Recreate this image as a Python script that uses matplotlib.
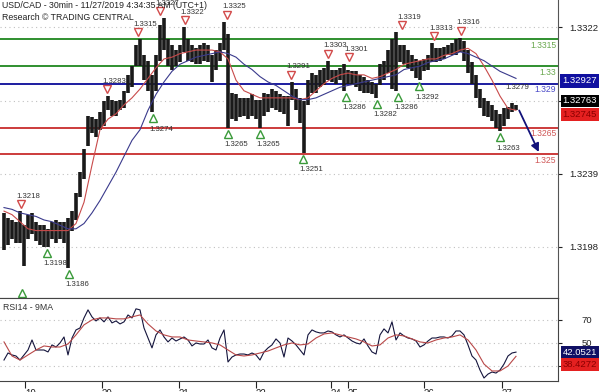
import numpy as np
import matplotlib
matplotlib.use("Agg")
from matplotlib import pyplot as plt
from matplotlib import transforms

plt.rcParams['font.family'] = ['Liberation Sans', 'DejaVu Sans']

# price samples, one every 1.25h of trading time (x = sample index)
highs = [1.3217, 1.3214, 1.3213, 1.3212, 1.3218, 1.3210, 1.3216, 1.3217,
         1.3212, 1.3210, 1.3210, 1.3208, 1.3212, 1.3213, 1.3212, 1.3212,
         1.3214, 1.3218, 1.3228, 1.3240, 1.3253, 1.3272, 1.3271, 1.3270,
         1.3274, 1.3280, 1.3283, 1.3281, 1.3280, 1.3281, 1.3286, 1.3295,
         1.3300, 1.3312, 1.3315, 1.3306, 1.3303, 1.3295, 1.3306, 1.3323,
         1.3327, 1.3315, 1.3312, 1.3309, 1.3312, 1.3322, 1.3315, 1.3312,
         1.3310, 1.3312, 1.3313, 1.3312, 1.3306, 1.3309, 1.3313, 1.3325,
         1.3318, 1.3285, 1.3284, 1.3282, 1.3282, 1.3282, 1.3284, 1.3281,
         1.3281, 1.3285, 1.3284, 1.3287, 1.3286, 1.3284, 1.3283, 1.3283,
         1.3291, 1.3287, 1.3282, 1.3280, 1.3292, 1.3296, 1.3295, 1.3298,
         1.3299, 1.3303, 1.3298, 1.3298, 1.3299, 1.3301, 1.3298, 1.3297,
         1.3297, 1.3295, 1.3294, 1.3292, 1.3291, 1.3290, 1.3301, 1.3303,
         1.3309, 1.3315, 1.3319, 1.3312, 1.3312, 1.3309, 1.3306, 1.3304,
         1.3303, 1.3304, 1.3306, 1.3313, 1.3310, 1.3310, 1.3311, 1.3312,
         1.3313, 1.3315, 1.3316, 1.3314, 1.3309, 1.3302, 1.3295, 1.3287,
         1.3282, 1.3280, 1.3278, 1.3275, 1.3273, 1.3276, 1.3277, 1.3279,
         1.3278]
lows = [1.3196, 1.3199, 1.3202, 1.3200, 1.3200, 1.3187, 1.3202, 1.3205,
        1.3201, 1.3199, 1.3198, 1.3198, 1.3202, 1.3200, 1.3202, 1.3200,
        1.3186, 1.3207, 1.3213, 1.3226, 1.3236, 1.3255, 1.3262, 1.3260,
        1.3264, 1.3266, 1.3275, 1.3272, 1.3272, 1.3275, 1.3276, 1.3285,
        1.3288, 1.3300, 1.3300, 1.3292, 1.3286, 1.3274, 1.3286, 1.3303,
        1.3309, 1.3300, 1.3298, 1.3300, 1.3302, 1.3308, 1.3303, 1.3302,
        1.3301, 1.3301, 1.3303, 1.3302, 1.3291, 1.3298, 1.3303, 1.3309,
        1.3265, 1.3270, 1.3269, 1.3271, 1.3272, 1.3270, 1.3272, 1.3270,
        1.3265, 1.3272, 1.3274, 1.3276, 1.3275, 1.3274, 1.3273, 1.3266,
        1.3281, 1.3275, 1.3268, 1.3251, 1.3278, 1.3285, 1.3285, 1.3288,
        1.3289, 1.3292, 1.3291, 1.3290, 1.3292, 1.3286, 1.3290, 1.3289,
        1.3288, 1.3286, 1.3285, 1.3285, 1.3284, 1.3282, 1.3289, 1.3292,
        1.3296, 1.3287, 1.3286, 1.3302, 1.3301, 1.3299, 1.3297, 1.3293,
        1.3292, 1.3297, 1.3298, 1.3302, 1.3302, 1.3303, 1.3304, 1.3306,
        1.3306, 1.3306, 1.3308, 1.3303, 1.3296, 1.3290, 1.3282, 1.3276,
        1.3272, 1.3271, 1.3269, 1.3265, 1.3263, 1.3266, 1.3270, 1.3274,
        1.3275]

# moving averages, one value every 2 samples
ma_fast = [1.3218, 1.3216, 1.3212, 1.3208, 1.3207, 1.3207, 1.3207, 1.3207,
           1.3207, 1.3211, 1.3223, 1.3244, 1.3264, 1.3270, 1.3273, 1.3278,
           1.3282, 1.3287, 1.3293, 1.3299, 1.3304, 1.3305, 1.3307, 1.3308,
           1.3309, 1.3309, 1.3309, 1.3308, 1.3304, 1.3292, 1.3286, 1.3284,
           1.3282, 1.3282, 1.3282, 1.3282, 1.3282, 1.3281, 1.3282, 1.3286,
           1.3290, 1.3293, 1.3295, 1.3296, 1.3295, 1.3295, 1.3293, 1.3294,
           1.3296, 1.3298, 1.3301, 1.3302, 1.3303, 1.3304, 1.3304, 1.3306,
           1.3307, 1.3309, 1.3310, 1.3307, 1.3300, 1.3292, 1.3283, 1.3276,
           1.3275]
ma_slow = [1.3220, 1.3219, 1.3217, 1.3216, 1.3215, 1.3213, 1.3212, 1.3210,
           1.3208, 1.3208, 1.3211, 1.3217, 1.3224, 1.3232, 1.3240, 1.3249,
           1.3258, 1.3264, 1.3275, 1.3284, 1.3291, 1.3297, 1.3301, 1.3303,
           1.3305, 1.3306, 1.3307, 1.3308, 1.3307, 1.3305, 1.3301, 1.3298,
           1.3294, 1.3291, 1.3289, 1.3286, 1.3283, 1.3281, 1.3281, 1.3282,
           1.3284, 1.3286, 1.3288, 1.3289, 1.3290, 1.3291, 1.3292, 1.3293,
           1.3294, 1.3295, 1.3298, 1.3299, 1.3300, 1.3302, 1.3303, 1.3304,
           1.3306, 1.3308, 1.3307, 1.3305, 1.3303, 1.3300, 1.3297, 1.3295,
           1.3293]

# RSI(14) per sample and its 9MA every 2 samples
rsi = [35.2, 41.3, 39.6, 38.7, 35.2, 39.6, 43.9, 52.6,
       43.9, 43.9, 43.9, 42.2, 48.3, 46.5, 50.0, 55.2,
       39.6, 54.3, 61.3, 63.0, 71.7, 78.7, 72.6, 69.1,
       71.7, 68.3, 72.6, 67.4, 69.1, 66.5, 68.3, 74.3,
       71.7, 79.6, 78.7, 63.0, 54.3, 45.7, 57.0, 61.3,
       55.2, 50.9, 54.3, 51.7, 53.5, 55.2, 52.6, 47.4,
       50.0, 49.1, 49.1, 52.6, 45.7, 43.9, 54.3, 61.3,
       33.5, 37.8, 39.6, 40.4, 40.4, 39.6, 41.3, 39.6,
       35.2, 42.2, 45.7, 48.3, 53.5, 50.0, 37.8, 54.3,
       51.7, 48.3, 43.9, 39.6, 57.0, 61.3, 59.6, 58.7,
       58.7, 60.4, 59.6, 57.0, 55.2, 57.0, 54.3, 51.7,
       50.0, 49.1, 53.5, 47.4, 42.2, 40.4, 57.0, 62.2,
       58.7, 68.3, 52.6, 58.7, 56.1, 54.3, 53.5, 51.7,
       46.5, 48.3, 51.7, 54.3, 54.3, 55.2, 55.2, 54.3,
       56.1, 60.4, 60.4, 57.0, 48.3, 38.7, 35.2, 26.5,
       19.6, 23.0, 24.8, 23.9, 26.5, 31.7, 38.7, 41.3,
       42.05]
rsi_ma = [50.9, 38.7, 35.2, 39.6, 43.9, 47.4, 46.5, 46.5,
          49.1, 57.0, 65.7, 70.0, 71.7, 71.7, 70.9, 70.9,
          72.6, 74.3, 66.5, 60.4, 57.0, 55.2, 55.2, 52.6,
          51.7, 50.9, 50.0, 48.3, 43.9, 39.6, 38.7, 39.6,
          41.3, 43.0, 45.7, 48.3, 50.0, 48.3, 49.1, 54.3,
          57.8, 58.7, 57.0, 55.2, 53.5, 50.9, 47.4, 48.3,
          54.3, 57.0, 56.1, 53.5, 50.9, 50.0, 52.6, 54.3,
          55.2, 57.0, 52.6, 43.9, 31.7, 25.7, 25.7, 30.0,
          38.4]

days = [5.25, 24.5, 43.75, 63, 81.75, 86, 105, 124.5]
day_labels = ["19", "20", "21", "22", "24", "25", "26", "27"]

# support / resistance levels
levels = [1.3315, 1.3300, 1.3290, 1.3265, 1.3250]
level_labels = ["1.3315", "1.33", "1.329", "1.3265", "1.325"]
level_colors = ["#2f8f2f", "#2f8f2f", "#1c1ca0", "#cc3b3b", "#cc3b3b"]
level_text = ["#6aa84f", "#6aa84f", "#4a4ac8", "#d05858", "#d05858"]

# pivot highs / lows
peak_x = [4.25, 25.75, 33.5, 39, 45.25, 55.75, 71.75, 81, 86.25, 99.5, 107.5, 114.25]
peak_val = [1.3218, 1.3283, 1.3315, 1.3327, 1.3322, 1.3325, 1.3291, 1.3303,
            1.3301, 1.3319, 1.3313, 1.3316]
trough_x = [4.5, 10.75, 16.25, 37.25, 56, 64, 74.75, 85.5, 93.25, 98.5, 103.75, 124]
trough_val = [1.3175, 1.3198, 1.3186, 1.3274, 1.3265, 1.3265, 1.3251, 1.3286,
              1.3282, 1.3286, 1.3292, 1.3263]
trough_labels = ["", "1.3198", "1.3186", "1.3274", "1.3265", "1.3265", "1.3251",
                 "1.3286", "1.3282", "1.3286", "1.3292", "1.3263"]

last_price = 1.32763
target = 1.3250

fig = plt.figure(figsize=(6, 3.92), dpi=100)
ax = fig.add_axes([0, 1 - 298 / 392, 558 / 600, 298 / 392])
rax = fig.add_axes([0, 1 - 381 / 392, 558 / 600, 83 / 392])

def shift(a, dx, dy, base=None):
    # offset a transform by some pixels
    return transforms.offset_copy(base if base is not None else a.transData,
                                  fig=fig, x=dx, y=dy, units='dots')

# ---- price panel
ax.set_xlim(-1, 138.5)
ax.set_ylim(1.31689, 1.33373)
for v in [1.3322, 1.3280, 1.3239, 1.3198]:
    ax.axhline(v, color='#c0c0c0', lw=0.8, ls=(0, (1, 3)), zorder=0)

for lv, c in zip(levels, level_colors):
    ax.axhline(lv, color=c, lw=1.4, zorder=1)

x = np.arange(len(highs))
ax.vlines(x, lows, highs, color='#1a1a1a', lw=2.6, zorder=3)
xm = np.arange(len(ma_fast)) * 2
ax.plot(xm, ma_fast, color='#c84a4a', lw=0.8, zorder=4)
ax.plot(xm, ma_slow, color='#3a3a8c', lw=0.8, zorder=4)

ax.plot(peak_x, peak_val, 'v', mfc='white', mec='#d24a4a', ms=6.2, mew=1.0,
        transform=shift(ax, 0, 7), zorder=5)
for px, pv in zip(peak_x, peak_val):
    ax.text(px, pv, f"{pv:.4f}", transform=shift(ax, 7, 15), ha='center',
            va='center', fontsize=5.6, color='#333333', zorder=6)
ax.plot(trough_x, trough_val, '^', mfc='white', mec='#3a9a3a', ms=6.2, mew=1.0,
        transform=shift(ax, 0, -6), zorder=5)
for px, pv, lab in zip(trough_x, trough_val, trough_labels):
    ax.text(px, pv, lab, transform=shift(ax, 8, -17), ha='center',
            va='center', fontsize=5.6, color='#333333', zorder=6)

ax.text(128.25, 1.3288, "1.3279", ha='center', va='center', fontsize=5.6,
        color='#333333')
ax.annotate('', xy=(134, target), xytext=(128.5, last_price),
            arrowprops=dict(arrowstyle='-|>', color='#12127a', lw=1.3,
                            mutation_scale=12), zorder=6)

btrans = transforms.blended_transform_factory(ax.transAxes, ax.transData)
for lv, lab, c in zip(levels, level_labels, level_text):
    ax.text(0.997, lv, lab, transform=shift(ax, 0, -6, btrans), ha='right',
            va='center', fontsize=6.2, color=c)

# 1.3280 sits under the value boxes, so only its tick shows
ax.yaxis.tick_right()
ax.set_yticks([1.3322, 1.3280, 1.3239, 1.3198])
ax.set_yticklabels(["1.3322", "", "1.3239", "1.3198"])
ax.tick_params(axis='y', length=3, pad=5, labelsize=6.8, colors='#222222')
ax.set_xticks([])
for s in ['top', 'left']:
    ax.spines[s].set_visible(False)
ax.spines['right'].set_color('#555555')
ax.spines['bottom'].set_color('#333333')

# value boxes on the right
ax.text(1.008, 1.32927, "1.32927", transform=shift(ax, 0, -2, btrans), fontsize=6.8,
        va='center', ha='left', color='white', clip_on=False,
        bbox=dict(boxstyle='square,pad=0.25', fc='#1010a0', ec='none'))
ax.text(1.008, last_price, "1.32763", transform=shift(ax, 0, 7, btrans), fontsize=6.8,
        va='center', ha='left', color='white', clip_on=False,
        bbox=dict(boxstyle='square,pad=0.2', fc='black', ec='none'))
ax.text(1.008, ma_fast[-1], "1.32745", transform=shift(ax, 0, -4, btrans), fontsize=6.8,
        va='center', ha='left', color='#8a0000', clip_on=False,
        bbox=dict(boxstyle='square,pad=0.2', fc='#e42020', ec='none'))

fig.text(0.004, 1 - 6 / 392, "USD/CAD - 30min - 11/27/2019 4:34:35 AM (UTC+1)",
         fontsize=6.3, va='center', color='#222222')
fig.text(0.004, 1 - 17 / 392, "Research \u00a9 TRADING CENTRAL",
         fontsize=6.3, va='center', color='#222222')

# ---- RSI panel
rax.set_xlim(-1, 138.5)
rax.set_ylim(17, 89)
for v in [30, 50, 70]:
    rax.axhline(v, color='#c0c0c0', lw=0.8, ls=(0, (1, 3)), zorder=0)
rax.plot(np.arange(len(rsi)), rsi, color='#14143c', lw=0.8)
rax.plot(np.arange(len(rsi_ma)) * 2, rsi_ma, color='#b84848', lw=0.8)
rax.text(0.006, 0.86, "RSI14 - 9MA", transform=rax.transAxes, fontsize=6.3,
         color='#333333')

# the 30 label is covered by the value boxes
rax.yaxis.tick_right()
rax.set_yticks([30, 50, 70])
rax.set_yticklabels(["", "50", "70"])
rax.tick_params(axis='y', length=3, pad=14, labelsize=6.8, colors='#222222')
rax.set_xticks(days)
rax.set_xticklabels(day_labels)
for t in rax.get_xticklabels():
    t.set_ha('left')
rax.tick_params(axis='x', length=5, pad=1, labelsize=7, colors='#222222')
rax.spines['left'].set_visible(False)
for s in ['top', 'bottom', 'right']:
    rax.spines[s].set_color('#444444')

rtrans = transforms.blended_transform_factory(rax.transAxes, rax.transData)
rax.text(1.008, rsi[-1], "42.0521", transform=shift(rax, 0, 0, rtrans), fontsize=6.8,
         va='center', ha='left', color='white', clip_on=False,
         bbox=dict(boxstyle='square,pad=0.2', fc='#101064', ec='none'))
rax.text(1.008, rsi_ma[-1], "38.4272", transform=shift(rax, 0, -8, rtrans), fontsize=6.8,
         va='center', ha='left', color='#8a0000', clip_on=False,
         bbox=dict(boxstyle='square,pad=0.2', fc='#e42020', ec='none'))

fig.savefig("out.png", dpi=100)
